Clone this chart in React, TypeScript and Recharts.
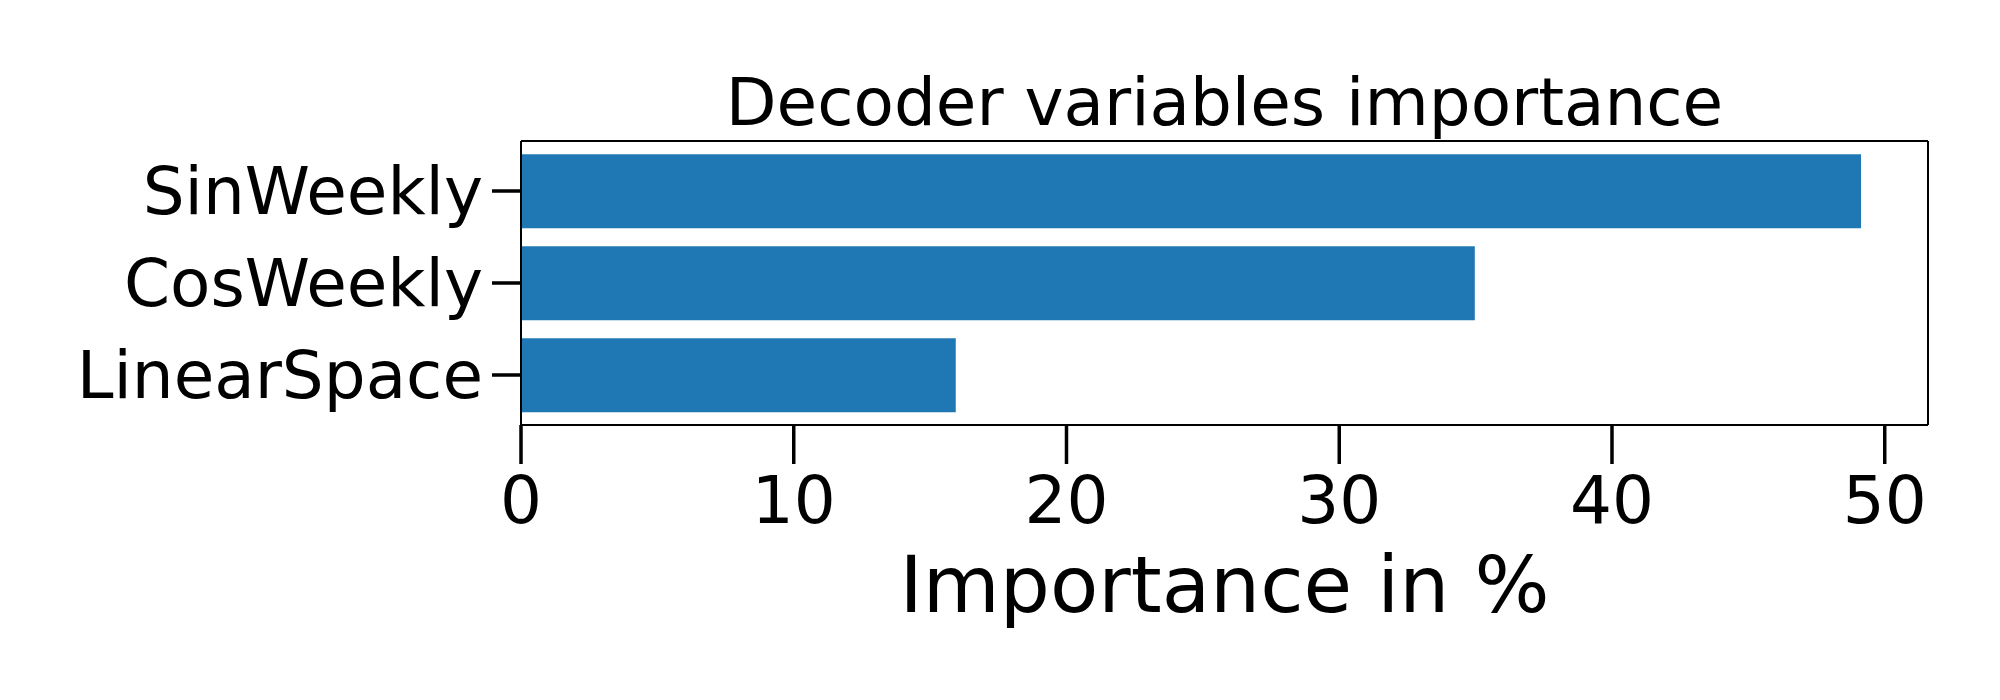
import React from 'react';
import { BarChart, Bar, XAxis, YAxis } from 'recharts';

const features = ['SinWeekly', 'CosWeekly', 'LinearSpace'];
const importance = [49.13, 34.97, 15.94];
const xTicks = [0, 10, 20, 30, 40, 50];

const font = '"DejaVu Sans", sans-serif';
const barColor = '#1f77b4';

const data = features.map((name, i) => ({ name, value: importance[i] }));

export default function App() {
  return (
    <div style={{ position: 'absolute', left: 0, top: 0, background: '#fff' }}>
      <BarChart
        width={2000}
        height={700}
        data={data}
        layout="vertical"
        barCategoryGap="10%"
        margin={{ top: 140, right: 71, bottom: 88, left: 0 }}
      >
        <XAxis
          type="number"
          dataKey="value"
          domain={[0, (max: number) => max * 1.05]}
          ticks={xTicks}
          height={187}
          tickSize={39}
          tickMargin={12}
          axisLine={{ stroke: '#000', strokeWidth: 2 }}
          tickLine={{ stroke: '#000', strokeWidth: 3.5 }}
          tick={{ fill: '#000', fontSize: 66, fontFamily: font }}
          label={{
            value: 'Importance in %',
            position: 'insideBottom',
            offset: 0,
            fill: '#000',
            fontSize: 79,
            fontFamily: font,
          }}
        />
        <XAxis
          xAxisId="top"
          orientation="top"
          type="number"
          domain={[0, 1]}
          height={1}
          tick={false}
          tickLine={false}
          axisLine={{ stroke: '#000', strokeWidth: 2 }}
          label={{
            value: 'Decoder variables importance',
            position: 'top',
            offset: 15,
            fill: '#000',
            fontSize: 66,
            fontFamily: font,
          }}
        />
        <YAxis
          type="category"
          dataKey="name"
          width={521}
          padding={{ top: 4, bottom: 4 }}
          tickSize={29}
          tickMargin={9}
          axisLine={{ stroke: '#000', strokeWidth: 2 }}
          tickLine={{ stroke: '#000', strokeWidth: 3.5 }}
          tick={{ fill: '#000', fontSize: 66, fontFamily: font }}
        />
        <YAxis
          yAxisId="right"
          orientation="right"
          type="number"
          domain={[0, 1]}
          width={1}
          tick={false}
          tickLine={false}
          axisLine={{ stroke: '#000', strokeWidth: 2 }}
        />
        <Bar dataKey="value" fill={barColor} isAnimationActive={false} />
      </BarChart>
    </div>
  );
}
